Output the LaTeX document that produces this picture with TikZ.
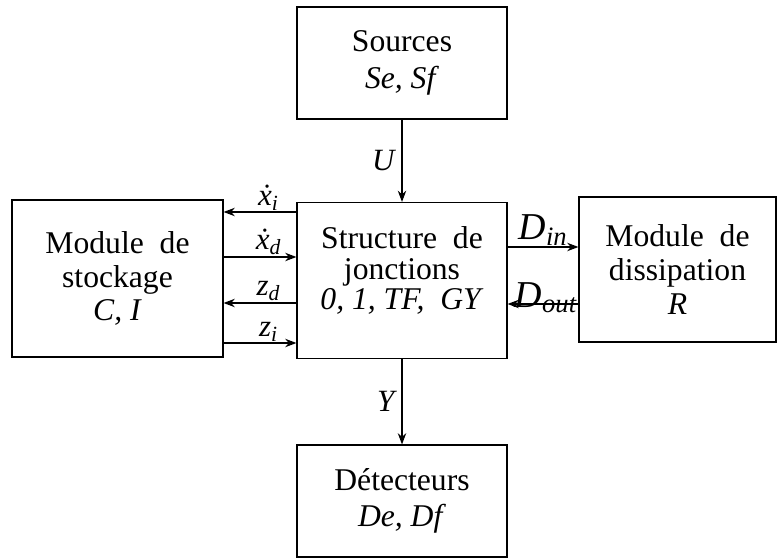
\documentclass[tikz,border=0pt]{standalone}
\usepackage{fontspec}
\setmainfont{Liberation Serif}
\usetikzlibrary{arrows.meta}

\begin{document}
\begin{tikzpicture}
        [x=0.025cm, y=-0.025cm,
        block/.style={draw, thick, align=center, minimum width=5.25cm,
          font=\fontsize{22.5}{24}\selectfont},
        flow/.style={thick, -{Stealth[length=8pt,width=6pt]}},
        lbl/.style={font=\fontsize{22}{24}\selectfont\itshape, inner sep=1pt}]

        \useasboundingbox (0,0) rectangle (779,558);

        \node[block, minimum height=2.8cm, font=\fontsize{22.5}{26}\selectfont] (src) at (402,63) {Sources\\ \textit{Se, Sf}};
        \node[block, minimum height=3.9cm, font=\fontsize{22.5}{21.5}\selectfont] (jct) at (402,280.5) {Structure~ de\\ jonctions\\ \textit{0, 1, TF,~ GY}\\[-4pt]\mbox{}};
        \node[block, minimum height=3.925cm, minimum width=5.275cm] (stock) at (117.5,278.5) {Module~ de\\ stockage\\ \textit{C, I}};
        \node[block, minimum height=3.625cm, minimum width=4.925cm] (diss) at (677.5,269.5) {Module~ de\\ dissipation\\ \textit{R}};
        \node[block, minimum height=2.8cm, font=\fontsize{22.5}{26}\selectfont] (det) at (402,501) {D\'etecteurs\\ \textit{De, Df}};

        % exchange levels
        \coordinate (xi) at (297,212);
        \coordinate (xd) at (297,257);
        \coordinate (zd) at (297,303);
        \coordinate (zi) at (297,343);
        \coordinate (din) at (505,247);
        \coordinate (dout) at (505,304);

        % vertical flows
        \draw[flow] (src) -- (jct) node[lbl, midway, left, xshift=-4pt] {U};
        \draw[flow] (jct) -- (det) node[lbl, midway, left, xshift=-4pt] {Y};

        % storage side
        \draw[flow] (jct.west |- xi) -- (stock.east |- xi) node[lbl, midway, above, xshift=6pt] {\.x\textsubscript{\itshape i}};
        \draw[flow] (stock.east |- xd) -- (jct.west |- xd) node[lbl, midway, above, xshift=6pt] {\.x\textsubscript{\itshape d}};
        \draw[flow] (jct.west |- zd) -- (stock.east |- zd) node[lbl, midway, above, xshift=6pt] {z\textsubscript{\itshape d}};
        \draw[flow] (stock.east |- zi) -- (jct.west |- zi) node[lbl, midway, above, xshift=6pt] {z\textsubscript{\itshape i}};

        % dissipation side
        \draw[flow] (jct.east |- din) -- (diss.west |- din) node[lbl, midway, above, font=\fontsize{27}{28}\selectfont\itshape] {D\textsubscript{in}};
        \draw[flow] (diss.west |- dout) -- (jct.east |- dout) node[lbl, midway, above, xshift=2pt, yshift=-8pt, font=\fontsize{27}{28}\selectfont\itshape] {D\textsubscript{out}};

    \end{tikzpicture}
\end{document}
